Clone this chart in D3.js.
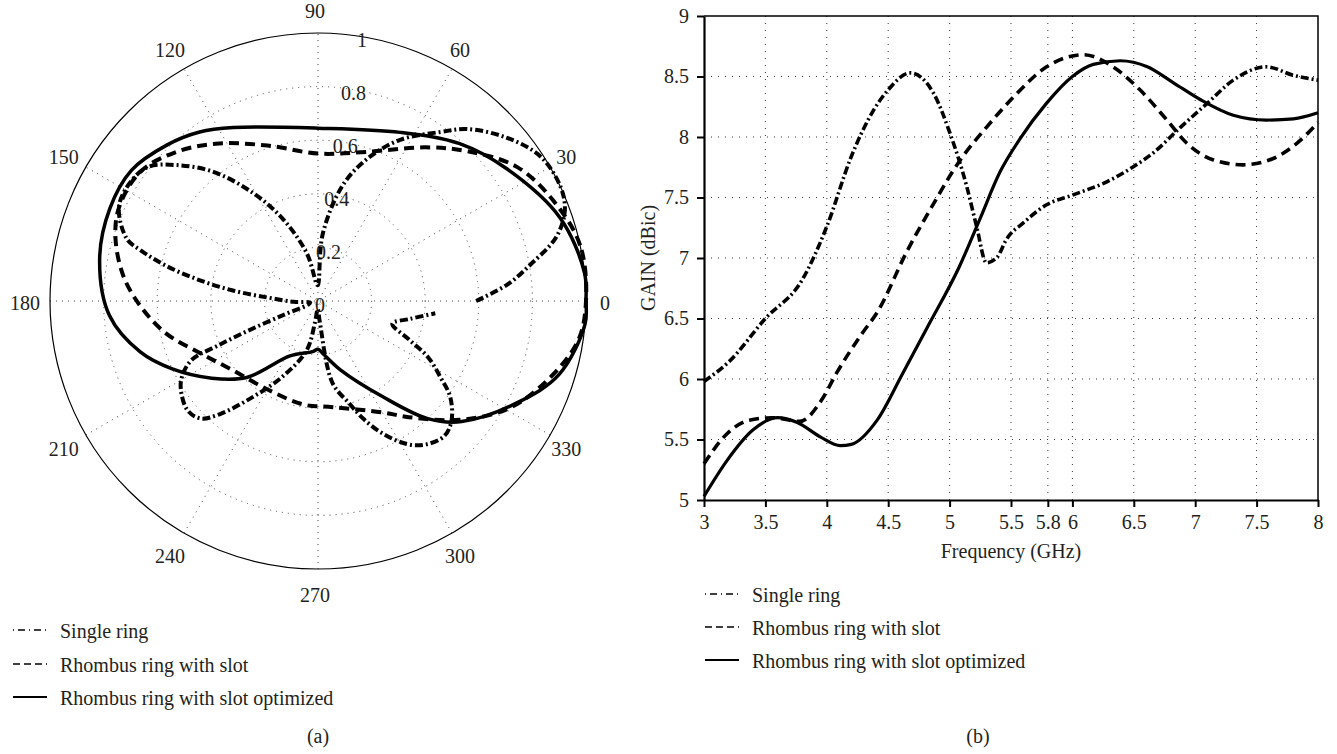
<!DOCTYPE html>
<html>
<head>
<meta charset="utf-8">
<script src="https://cdn.jsdelivr.net/npm/d3@7"></script>
<style>
body { margin: 0; background: #fff; }
text { font-family: "Liberation Serif", "Times New Roman", serif; font-size: 20px; fill: #231f20; }
</style>
</head>
<body>
<script>
// tick labels
var angleTicks = [0, 30, 60, 90, 120, 150, 180, 210, 240, 270, 300, 330]
var ringTicks = [0, 0.2, 0.4, 0.6, 0.8, 1]
var freqTicks = [3, 3.5, 4, 4.5, 5, 5.5, 5.8, 6, 6.5, 7, 7.5, 8]
var gainTicks = [5, 5.5, 6, 6.5, 7, 7.5, 8, 8.5, 9]
var seriesNames = ["Single ring", "Rhombus ring with slot", "Rhombus ring with slot optimized"]

// (a) radiation pattern: angle (deg) and normalised radius
var singleAngle = [0, 5, 10, 15, 20, 25, 33, 41, 49, 54, 63, 71, 78, 86, 90, 93, 103, 113, 121, 129,
  136, 142, 149, 155, 162, 164, 167, 170, 173, 176, 182, 192, 200, 202, 203, 204, 205, 209, 213, 220,
  225, 229, 236, 245, 257, 262, 268, 275, 280, 287, 291, 296, 302, 307, 313, 318, 324, 328, 333, 337,
  343, 349, 354]
var singleR = [0.59, 0.71, 0.81, 0.92, 0.98, 1.0, 0.99, 0.93, 0.85, 0.78, 0.675, 0.56, 0.44, 0.25, 0.06, 0.06, 0.18, 0.33, 0.47, 0.62,
  0.73, 0.81, 0.83, 0.82, 0.75, 0.69, 0.58, 0.45, 0.32, 0.19, 0.09, 0.03, 0.04, 0.14, 0.28, 0.41, 0.52, 0.58, 0.61, 0.635,
  0.62, 0.56, 0.43, 0.31, 0.19, 0.08, 0.03, 0.08, 0.31, 0.40, 0.47, 0.55, 0.63, 0.67, 0.69, 0.67, 0.61, 0.54, 0.46, 0.37,
  0.29, 0.35, 0.44]

var slotAngle = [0, 12, 23, 34, 45, 55, 72, 90, 108, 123, 134, 144, 155, 163, 173, 182, 192, 204, 219, 240,
  262, 278, 300, 308, 320, 330, 339, 351]
var slotR = [1.0, 1.0, 0.955, 0.895, 0.79, 0.70, 0.585, 0.55, 0.61, 0.70, 0.77, 0.82, 0.82, 0.79, 0.73, 0.66, 0.58, 0.48, 0.41, 0.38,
  0.39, 0.40, 0.48, 0.55, 0.69, 0.81, 0.89, 0.98]

var optAngle = [0, 6, 19, 35, 48, 64, 90, 116, 125, 134, 145, 156, 169, 184, 196, 205, 216, 227, 243, 264,
  270, 276, 288, 304, 313, 320, 333, 343, 355]
var optR = [1.0, 1.0, 0.955, 0.86, 0.79, 0.70, 0.645, 0.72, 0.77, 0.81, 0.85, 0.85, 0.83, 0.78, 0.69, 0.60, 0.49, 0.39, 0.23, 0.19,
  0.18, 0.20, 0.27, 0.43, 0.60, 0.70, 0.835, 0.94, 1.0]

// (b) gain vs frequency
var singleFreq = [3, 3.2, 3.5, 3.8, 4.0, 4.2, 4.38, 4.5, 4.68, 4.87, 5.0, 5.14, 5.22, 5.3, 5.39, 5.46, 5.6, 5.79, 6.0, 6.28, 6.49, 6.66, 6.88, 7.1, 7.31, 7.58, 7.8, 8.0]
var singleGain = [5.98, 6.14, 6.5, 6.82, 7.26, 7.84, 8.22, 8.39, 8.53, 8.36, 8.04, 7.59, 7.26, 6.96, 7.01, 7.15, 7.29, 7.44, 7.52, 7.63, 7.75, 7.87, 8.08, 8.28, 8.47, 8.58, 8.51, 8.47]

var slotFreq = [3, 3.19, 3.37, 3.56, 3.78, 3.96, 4.08, 4.29, 4.41, 4.65, 4.87, 5.08, 5.3, 5.52, 5.79, 6.09, 6.33, 6.55, 6.77, 6.93, 7.15, 7.39, 7.63, 7.83, 8.0]
var slotGain = [5.3, 5.55, 5.66, 5.68, 5.65, 5.83, 6.05, 6.38, 6.55, 7.05, 7.45, 7.8, 8.08, 8.33, 8.58, 8.68, 8.58, 8.39, 8.14, 7.95, 7.81, 7.77, 7.82, 7.95, 8.12]

var optFreq = [3, 3.19, 3.4, 3.6, 3.76, 3.95, 4.11, 4.2, 4.41, 4.62, 4.82, 5.08, 5.25, 5.41, 5.57, 5.79, 6.0, 6.17, 6.39, 6.61, 6.82, 7.04, 7.31, 7.58, 7.8, 8.0]
var optGain = [5.03, 5.33, 5.58, 5.68, 5.64, 5.52, 5.45, 5.46, 5.66, 6.05, 6.43, 6.93, 7.33, 7.71, 7.98, 8.28, 8.5, 8.6, 8.63, 8.58, 8.45, 8.31, 8.18, 8.14, 8.15, 8.2]

var dashes = ["8,3,2,3", "10,6", null]
var legendDashes = ["1,4,7,4", "7,4", null]

var svg = d3.select("body").append("svg").attr("width", 1337).attr("height", 754)

// ---------- (a) polar plot ----------
var cx = 318, cy = 301, R = 268
var rScale = d3.scaleLinear().domain([0, 1]).range([0, R])
var toRad = function(a) { return (90 - a) * Math.PI / 180 }

var polar = svg.append("g").attr("transform", "translate(" + cx + "," + cy + ")")

polar.selectAll(".ring")
  .data(ringTicks.filter(function(d) { return d > 0 && d < 1 }))
  .enter().append("circle")
  .attr("r", function(d) { return rScale(d) })
  .attr("fill", "none")
  .attr("stroke", "#444")
  .attr("stroke-width", 1)
  .attr("stroke-dasharray", "1,5")

polar.selectAll(".spoke")
  .data(angleTicks.filter(function(d) { return d < 180 }))
  .enter().append("line")
  .attr("x1", function(d) { return -rScale(1) * Math.cos(d * Math.PI / 180) })
  .attr("y1", function(d) { return rScale(1) * Math.sin(d * Math.PI / 180) })
  .attr("x2", function(d) { return rScale(1) * Math.cos(d * Math.PI / 180) })
  .attr("y2", function(d) { return -rScale(1) * Math.sin(d * Math.PI / 180) })
  .attr("stroke", "#444")
  .attr("stroke-width", 1)
  .attr("stroke-dasharray", "1,5")

polar.append("circle")
  .attr("r", rScale(1))
  .attr("fill", "none")
  .attr("stroke", "#000")
  .attr("stroke-width", 1.2)

polar.selectAll(".alabel")
  .data(angleTicks)
  .enter().append("text")
  .attr("x", function(d) { return -3 + 290 * Math.cos(d * Math.PI / 180) })
  .attr("y", function(d) { return -292 * Math.sin(d * Math.PI / 180) + 2 })
  .attr("text-anchor", "middle")
  .attr("dominant-baseline", "central")
  .text(function(d) { return d })

polar.selectAll(".rlabel")
  .data(ringTicks)
  .enter().append("text")
  .attr("x", function(d) { return 2 + rScale(d) * Math.cos(81 * Math.PI / 180) })
  .attr("y", function(d) { return -rScale(d) * Math.sin(81 * Math.PI / 180) + 4 })
  .attr("text-anchor", "middle")
  .attr("dominant-baseline", "central")
  .text(function(d) { return d })

var radial = d3.lineRadial()
  .angle(function(d) { return toRad(d[0]) })
  .radius(function(d) { return rScale(d[1]) })

var polarSeries = [
  {pts: d3.zip(singleAngle, singleR), closed: false},
  {pts: d3.zip(slotAngle, slotR), closed: true},
  {pts: d3.zip(optAngle, optR), closed: true}
]

polarSeries.forEach(function(s, i) {
  radial.curve(s.closed ? d3.curveCatmullRomClosed : d3.curveCatmullRom)
  polar.append("path")
    .attr("d", radial(s.pts))
    .attr("fill", "none")
    .attr("stroke", "#000")
    .attr("stroke-width", i == 2 ? 3.5 : 4)
    .attr("stroke-dasharray", dashes[i])
})

// ---------- (b) gain vs frequency ----------
var x = d3.scaleLinear().domain([3, 8]).range([704, 1318])
var y = d3.scaleLinear().domain([5, 9]).range([500, 16])

svg.selectAll(".vgrid")
  .data(freqTicks.slice(1, -1))
  .enter().append("line")
  .attr("x1", function(d) { return x(d) }).attr("x2", function(d) { return x(d) })
  .attr("y1", y(5)).attr("y2", y(9))
  .attr("stroke", "#333").attr("stroke-width", 1).attr("stroke-dasharray", "1,6")

svg.selectAll(".hgrid")
  .data(gainTicks.slice(1, -1))
  .enter().append("line")
  .attr("y1", function(d) { return y(d) }).attr("y2", function(d) { return y(d) })
  .attr("x1", x(3)).attr("x2", x(8))
  .attr("stroke", "#333").attr("stroke-width", 1).attr("stroke-dasharray", "1,6")

var lineFunc = d3.line()
  .curve(d3.curveMonotoneX)
  .x(function(d) { return x(d[0]) })
  .y(function(d) { return y(d[1]) })

var gainSeries = [d3.zip(singleFreq, singleGain), d3.zip(slotFreq, slotGain), d3.zip(optFreq, optGain)]

gainSeries.forEach(function(s, i) {
  svg.append("path")
    .attr("d", lineFunc(s))
    .attr("fill", "none")
    .attr("stroke", "#000")
    .attr("stroke-width", i == 2 ? 3.2 : 3.6)
    .attr("stroke-dasharray", dashes[i])
})

// box
svg.append("path")
  .attr("d", "M" + x(3) + "," + y(9) + "H" + x(8) + "V" + y(5))
  .attr("fill", "none").attr("stroke", "#000").attr("stroke-width", 1.5)

var xAxis = svg.append("g")
  .attr("transform", "translate(0," + y(5) + ")")
  .call(d3.axisBottom(x).tickValues(freqTicks).tickSize(7).tickSizeOuter(0).tickPadding(8).tickFormat(d3.format("")))
var yAxis = svg.append("g")
  .attr("transform", "translate(" + x(3) + ",0)")
  .call(d3.axisLeft(y).tickValues(gainTicks).tickSize(7).tickSizeOuter(0).tickPadding(8).tickFormat(d3.format("")))

;[xAxis, yAxis].forEach(function(g) {
  g.select(".domain").attr("stroke", "#000").attr("stroke-width", 2.2)
  g.selectAll(".tick line").attr("stroke", "#000").attr("stroke-width", 2)
  g.selectAll("text").attr("font-family", null).attr("font-size", null).attr("fill", "#231f20")
})

svg.append("text")
  .attr("x", (x(3) + x(8)) / 2).attr("y", 558)
  .attr("text-anchor", "middle")
  .text("Frequency (GHz)")

svg.append("text")
  .attr("transform", "translate(648," + (y(5) + y(9)) / 2 + ") rotate(-90)")
  .attr("text-anchor", "middle")
  .attr("dominant-baseline", "central")
  .text("GAIN (dBic)")

// ---------- legends ----------
function legend(x0, baselines) {
  seriesNames.forEach(function(name, i) {
    svg.append("line")
      .attr("x1", x0).attr("x2", x0 + 34)
      .attr("y1", baselines[i] - 8).attr("y2", baselines[i] - 8)
      .attr("stroke", "#000")
      .attr("stroke-width", i == 2 ? 2 : 1.5)
      .attr("stroke-dasharray", legendDashes[i])
    svg.append("text")
      .attr("x", x0 + 47).attr("y", baselines[i])
      .text(name)
  })
}
legend(13, [638, 672, 705])
legend(705, [602, 635, 668])

svg.append("text").attr("x", 318).attr("y", 743).attr("text-anchor", "middle").text("(a)")
svg.append("text").attr("x", 978).attr("y", 743).attr("text-anchor", "middle").text("(b)")
</script>
</body>
</html>
